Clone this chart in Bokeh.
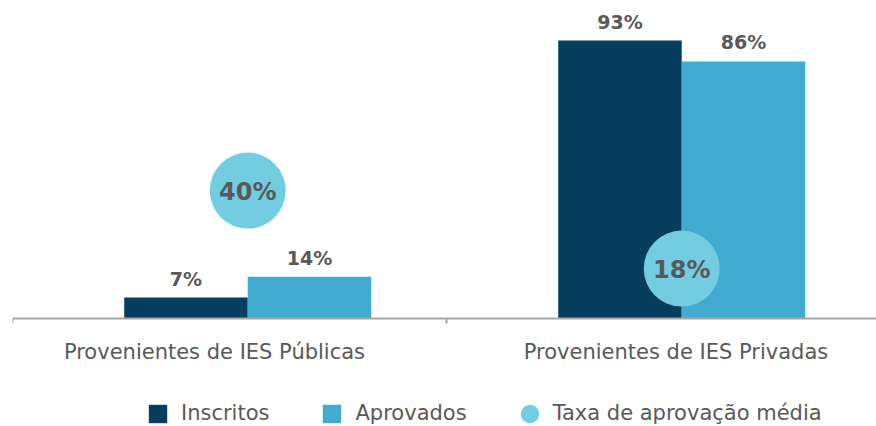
from bokeh.plotting import figure
from bokeh.models import Range1d, LinearAxis, FixedTicker, Legend, LegendItem
from bokeh.core.properties import value
from bokeh.embed import file_html
from bokeh.resources import INLINE

# ---- data ----
categories = ["Provenientes de IES Públicas", "Provenientes de IES Privadas"]
inscritos = [7, 93]
aprovados = [14, 86]
taxa_media = [40, 18]
taxa_nivel = [42.8, 16.7]   # vertical level of each bubble on the % scale
series = ["Inscritos", "Aprovados", "Taxa de aprovação média"]

# ---- style / layout ----
NAVY = "#073e5e"
BLUE = "#41acd0"
BUBBLE = "#72cde1"
GREY = "#595959"
AXIS = "#a6a6a6"
FONT = "DejaVu Sans"

W, H = 876, 426
LEFT = 12
PX_CAT = 434.0          # pixels per category
PX_PCT = 2.989          # pixels per percentage point
BASE = 318              # baseline pixel row
GROUP, DODGE, BW = 0.542, 0.1423, 0.2846
LABEL_OFF = [0.4654, 0.5288]

idx = list(range(len(categories)))
x_ins = [i + GROUP - DODGE for i in idx]
x_apr = [i + GROUP + DODGE for i in idx]
x_mid = [i + GROUP for i in idx]
x_lab = [i + o for i, o in zip(idx, LABEL_OFF)]

p = figure(width=W, height=H,
           x_range=Range1d(0, (W - LEFT) / PX_CAT),
           y_range=Range1d(-(H - BASE) / PX_PCT, BASE / PX_PCT),
           output_backend="svg", toolbar_location=None, x_axis_type=None, y_axis_type=None,
           min_border_left=LEFT, min_border_right=0, min_border_top=0, min_border_bottom=0,
           outline_line_color=None, background_fill_color="white", border_fill_color="white")

r_ins = p.vbar(x=x_ins, top=inscritos, width=BW, fill_color=NAVY, line_color=None)
r_apr = p.vbar(x=x_apr, top=aprovados, width=BW, fill_color=BLUE, line_color=None)

for xs, vals in ((x_ins, inscritos), (x_apr, aprovados)):
    p.text(x=xs, y=vals, text=[f"{v}%" for v in vals], text_align="center",
           text_baseline="alphabetic", y_offset=-19, text_font=value(FONT),
           text_font_style="bold", text_font_size="19px", text_color=GREY)

r_bub = p.ellipse(x=x_mid, y=taxa_nivel, width=76, height=76, width_units="screen",
                  height_units="screen", fill_color=BUBBLE, line_color=None)
p.text(x=x_mid, y=taxa_nivel, text=[f"{v}%" for v in taxa_media], text_align="center",
       text_baseline="middle", y_offset=1, text_font=value(FONT), text_font_style="bold",
       text_font_size="24px", text_color=GREY)

# category labels under the baseline
p.text(x=x_lab, y=[0] * len(categories), text=categories, text_align="center",
       text_baseline="alphabetic", y_offset=33, text_font=value(FONT),
       text_font_size="21px", text_color=GREY)

ax = LinearAxis(ticker=FixedTicker(ticks=[0, 1, 2]), fixed_location=0,
                major_label_overrides={0: "", 1: "", 2: ""},
                axis_line_color=AXIS, axis_line_width=2,
                major_tick_line_color=AXIS, major_tick_line_width=2,
                major_tick_in=0, major_tick_out=5, minor_tick_line_color=None,
                major_label_text_font_size="0px", major_label_standoff=0)
p.add_layout(ax, "below")

legend = Legend(items=[LegendItem(label=series[0], renderers=[r_ins]),
                       LegendItem(label=series[1], renderers=[r_apr]),
                       LegendItem(label=series[2], renderers=[r_bub])],
                orientation="horizontal", location=(146 - LEFT, 1),
                glyph_width=23, glyph_height=23,
                label_standoff=12, spacing=51, padding=0, margin=0,
                border_line_color=None, background_fill_alpha=0,
                label_text_font=FONT, label_text_font_size="21px",
                label_text_color=GREY, label_height=23)
p.add_layout(legend, "center")

open("out.html", "w").write(file_html(p, INLINE))
